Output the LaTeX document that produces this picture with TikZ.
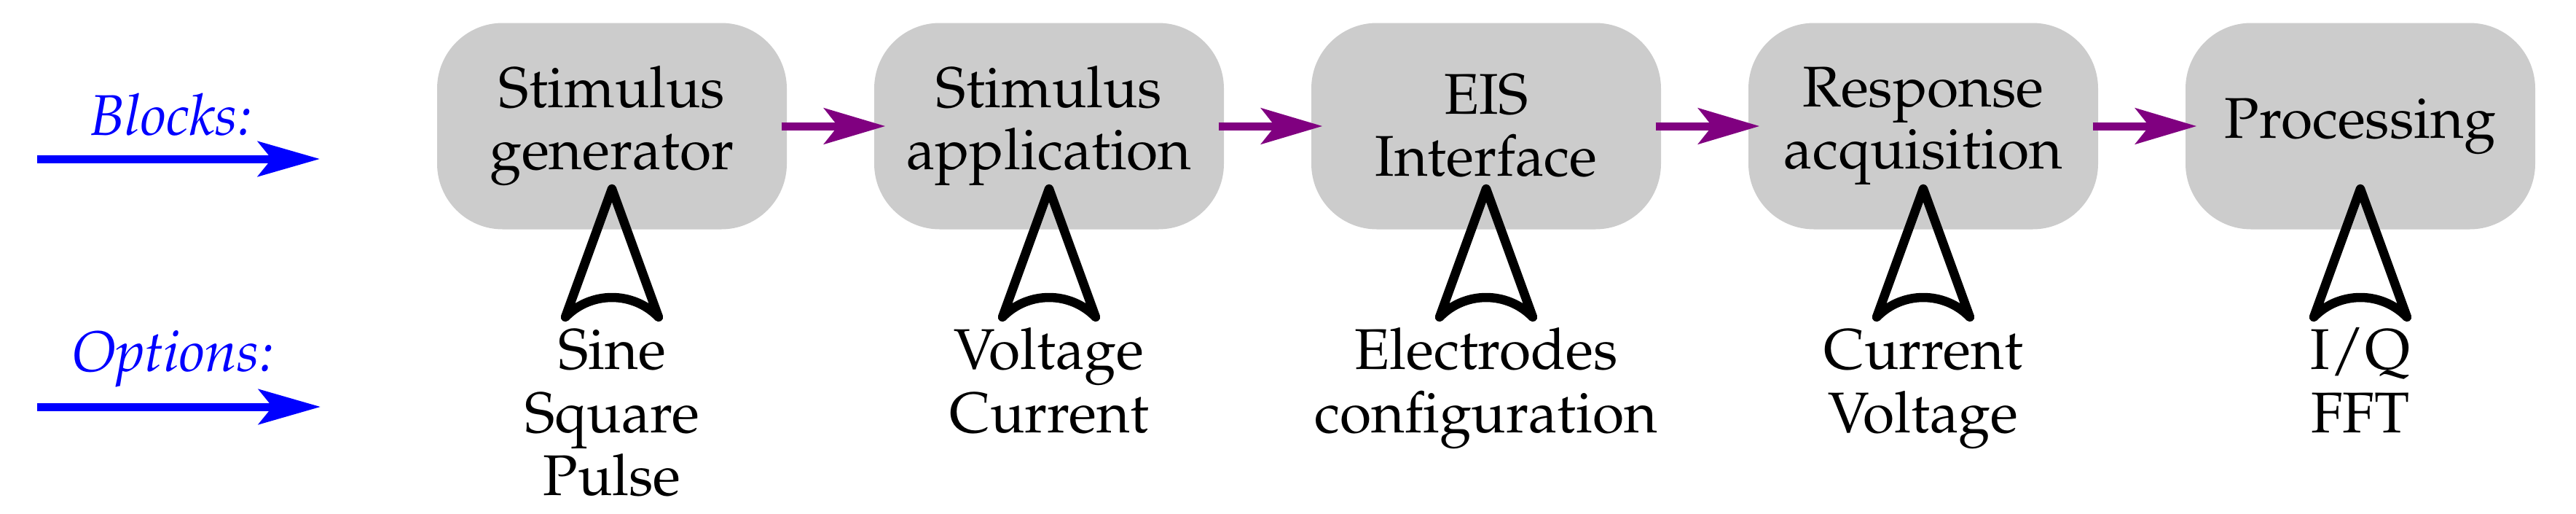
\documentclass[tikz,border=0pt]{standalone}
\usepackage[T1]{fontenc}
\usepackage{mathpazo}
\usetikzlibrary{arrows.meta}
\definecolor{flowpurple}{rgb}{0.5,0,0.5}
\begin{document}
\begin{tikzpicture}[x=1mm,y=-1mm,
  blk/.style={fill=black!20, rounded corners=9mm, minimum width=48mm, minimum height=28.3mm, align=center, font=\fontsize{22.4}{24.2}\selectfont, inner sep=0pt},
  opt/.style={anchor=north, align=center, font=\fontsize{22.4}{24.5}\selectfont, inner sep=0pt},
  lbl/.style={anchor=base, text=blue, font=\fontsize{22.4}{24.5}\selectfont\itshape, inner sep=0pt},
  flow/.style={flowpurple, line width=1.1mm, -{Stealth[length=8.4mm, width=4.9mm, inset=1.9mm]}},
  side/.style={blue, line width=1.1mm, -{Stealth[length=8.5mm, width=4.8mm, inset=1.9mm]}},
  up/.style={line width=1.25mm, line join=round, line cap=round}]
\useasboundingbox (0,0) rectangle (353.6,70.4);
\node[blk] (b1) at (84,17.3) {Stimulus\\generator};
\node[blk] (b2) at (144,17.3) {Stimulus\\application};
\node[blk] (b3) at (204,17.3) {EIS\\Interface};
\node[blk] (b4) at (264,17.3) {Response\\acquisition};
\node[blk] (b5) at (324,17.3) {Processing};
\foreach \a/\b in {b1/b2,b2/b3,b3/b4,b4/b5}
  \draw[flow, shorten <=-0.8mm, shorten >=-1.6mm] (\a.east) -- (\b.west);
\foreach \i/\x in {1/84,2/144,3/204,4/264,5/324}{
  \coordinate (t\i) at (\x,25.9);
  \draw[up] (t\i) -- ++(6.4,17.6) .. controls ++(-3.5,-3.6) and ++(3.5,-3.6) .. ++(-12.8,0) -- cycle;
}
\node[opt] (o1) at (84,44.6) {\strut Sine\\Square\\Pulse};
\node[opt] (o2) at (144,44.6) {\strut Voltage\\Current};
\node[opt] (o3) at (204,44.6) {\strut Electrodes\\configuration};
\node[opt] (o4) at (264,44.6) {\strut Current\\Voltage};
\node[opt] (o5) at (324,44.6) {\strut I/Q\\FFT};
\node[lbl] (lb) at (23.5,18.5) {Blocks:};
\node[lbl] (lo) at (23.7,50.9) {Options:};
\coordinate (ba) at (5.1,21.8); \coordinate (bb) at (43.9,21.8);
\coordinate (oa) at (5.1,55.8); \coordinate (ob) at (44,55.8);
\draw[side] (ba) -- (bb);
\draw[side] (oa) -- (ob);
\end{tikzpicture}
\end{document}
